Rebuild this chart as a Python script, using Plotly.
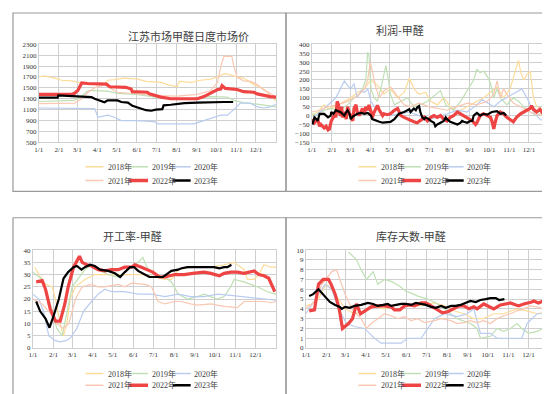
import plotly.graph_objects as go

W, H = 550, 394

# ---------------- shared axis data ----------------
month_days = [0, 31, 59, 90, 120, 151, 181, 212, 243, 273, 304, 334]
month_labels = ["1/1", "2/1", "3/1", "4/1", "5/1", "6/1", "7/1", "8/1", "9/1", "10/1", "11/1", "12/1"]
year_names = ["2018年", "2019年", "2020年", "2021年", "2022年", "2023年"]

# ---------------- panel 1: 江苏市场甲醛日度市场价 (day of year, price) ----------------
price_2018 = [(0, 1700), (9, 1720), (25, 1680), (35, 1640), (50, 1630), (60, 1600), (76, 1560), (100, 1560),
              (106, 1640), (116, 1650), (132, 1680), (152, 1660), (165, 1620), (188, 1600), (198, 1560),
              (213, 1520), (216, 1620), (234, 1600), (249, 1640), (264, 1660), (275, 1700), (285, 1760),
              (295, 1740), (305, 1700), (315, 1680), (331, 1560), (346, 1480), (361, 1300), (365, 1260)]
price_2019 = [(0, 1250), (31, 1260), (55, 1270), (66, 1350), (76, 1450), (86, 1450), (106, 1440), (121, 1400),
              (150, 1380), (180, 1330), (203, 1300), (234, 1300), (249, 1330), (264, 1340), (290, 1330),
              (300, 1270), (315, 1230), (336, 1200), (365, 1150)]
price_2020 = [(0, 1130), (60, 1130), (86, 1120), (91, 960), (101, 980), (106, 1000), (116, 960), (127, 900),
              (150, 900), (178, 880), (183, 840), (239, 840), (249, 880), (254, 900), (280, 1000), (290, 1000),
              (300, 1100), (310, 1220), (326, 1220), (336, 1150), (346, 1130), (356, 1150), (365, 1200)]
price_2021 = [(0, 1210), (31, 1210), (55, 1220), (66, 1300), (76, 1420), (86, 1500), (101, 1560), (121, 1420),
              (150, 1390), (180, 1360), (213, 1350), (244, 1380), (264, 1450), (275, 1600), (280, 1900),
              (285, 2080), (297, 2080), (300, 1900), (305, 1700), (315, 1630), (326, 1620), (336, 1560),
              (346, 1460), (356, 1400), (365, 1320)]
price_2022 = [(0, 1380), (50, 1380), (55, 1400), (60, 1450), (66, 1590), (75, 1580), (104, 1570), (109, 1520),
              (134, 1510), (137, 1500), (142, 1480), (144, 1430), (167, 1420), (170, 1390), (178, 1360),
              (188, 1330), (203, 1300), (244, 1300), (254, 1340), (264, 1400), (275, 1470), (280, 1480),
              (282, 1540), (287, 1490), (295, 1480), (305, 1470), (315, 1430), (331, 1420), (336, 1390),
              (346, 1360), (356, 1340), (365, 1330)]
price_2023 = [(0, 1320), (29, 1320), (30, 1360), (40, 1355), (60, 1345), (70, 1340), (81, 1330), (86, 1300),
              (93, 1270), (99, 1250), (101, 1235), (106, 1270), (121, 1270), (127, 1240), (137, 1230),
              (144, 1170), (152, 1140), (160, 1110), (165, 1090), (173, 1080), (180, 1100), (190, 1110),
              (192, 1180), (203, 1190), (213, 1210), (224, 1220), (244, 1230), (264, 1240), (285, 1240),
              (299, 1240)]

# ---------------- panel 2: 利润-甲醛 ----------------
profit_2018 = [(0, 0), (9, 20), (19, 60), (25, 40), (35, 50), (50, 80), (60, 100), (70, 130), (81, 150), (91, 200),
               (101, 170), (111, 120), (121, 150), (132, 100), (142, 130), (150, 210), (157, 150), (165, 120),
               (175, 130), (183, 80), (193, 60), (203, 100), (213, 50), (224, 20), (234, 40), (244, 60), (254, 80),
               (264, 100), (275, 130), (285, 160), (295, 100), (305, 150), (313, 250), (318, 310), (321, 250),
               (326, 200), (331, 230), (336, 250), (341, 100), (346, 50), (356, 30), (365, 20)]
profit_2019 = [(0, 10), (9, 0), (19, 30), (31, 40), (42, 30), (55, 60), (65, 100), (76, 130), (83, 200), (86, 355),
               (88, 340), (91, 150), (96, 100), (101, 80), (106, 150), (111, 230), (114, 280), (118, 200),
               (121, 120), (127, 60), (137, 80), (147, 100), (157, 50), (167, 60), (178, 80), (188, 110),
               (198, 140), (206, 60), (218, 30), (229, 80), (239, 140), (244, 170), (249, 200), (254, 260),
               (259, 240), (264, 250), (270, 220), (275, 180), (280, 100), (285, 150), (290, 100), (300, 60),
               (310, 100), (318, 80), (326, 50), (336, 20), (346, 0), (356, 20), (365, 10)]
profit_2020 = [(0, -30), (9, 10), (19, 40), (31, 80), (37, 100), (44, 150), (50, 195), (55, 170), (60, 150),
               (65, 180), (70, 100), (76, 140), (81, 130), (86, 150), (91, 80), (96, 50), (106, 20), (121, 0),
               (137, 10), (150, 20), (165, 0), (180, -20), (193, -10), (208, 10), (224, 30), (239, 20), (254, 60),
               (262, 90), (270, 70), (280, 50), (290, 80), (300, 100), (310, 120), (318, 140), (323, 150),
               (331, 100), (336, 60), (341, 20), (351, -20), (361, -40), (365, -50)]
profit_2021 = [(0, 20), (12, 30), (25, 50), (40, 60), (55, 80), (70, 110), (81, 150), (86, 200), (90, 300),
               (93, 250), (99, 150), (104, 100), (111, 140), (121, 160), (132, 110), (142, 60), (152, 50),
               (165, 70), (180, 50), (193, 40), (208, 30), (224, 50), (239, 70), (254, 60), (270, 80), (280, 120),
               (285, 195), (290, 100), (295, 150), (300, 120), (310, 70), (321, 50), (331, 30), (341, 10),
               (356, 0), (365, 0)]
profit_2022 = [(1, -20), (4, -40), (9, -20), (12, -60), (14, -50), (19, -70), (22, -60), (25, -80), (27, -75),
               (29, -50), (30, -30), (33, -10), (35, 10), (37, -10), (39, 80), (41, 60), (42, 20), (44, 0),
               (46, 50), (47, -10), (50, 20), (53, -20), (55, 50), (58, 10), (60, 0), (63, -30), (65, 40),
               (68, 60), (70, 20), (73, 0), (76, 20), (78, 40), (81, 10), (83, 50), (86, 30), (88, 60), (91, 20),
               (93, -10), (96, 20), (99, 40), (101, 57), (104, 30), (106, 20), (109, 0), (111, 10), (116, 5),
               (121, 10), (127, 30), (132, 40), (134, 20), (137, 0), (142, -10), (147, -20), (152, -30),
               (157, -35), (162, -40), (167, -30), (170, -20), (173, -10), (178, -30), (183, -10), (188, 0),
               (193, -10), (198, 0), (203, -20), (208, -30), (213, -10), (218, 0), (224, 20), (229, 10), (234, 0),
               (239, -10), (244, -20), (247, -30), (252, -50), (254, -40), (259, 0), (264, 10), (270, 0),
               (275, -10), (277, -30), (280, -75), (282, -40), (285, 0), (290, 20), (295, 10), (300, -10),
               (305, -20), (310, -35), (315, -10), (318, 0), (321, 10), (326, 20), (331, 30), (336, 40),
               (338, 55), (341, 35), (346, 20), (351, 35), (356, 10), (358, 40), (361, 20), (365, -10)]
profit_2023 = [(1, -50), (4, -10), (7, -20), (9, -30), (12, 10), (19, 10), (22, 0), (25, -10), (29, 0), (30, 20),
               (33, 10), (37, 30), (40, 25), (44, 20), (47, 10), (50, 0), (53, 20), (55, 30), (58, 10), (60, -20),
               (63, -5), (65, 0), (70, 10), (76, 15), (81, 10), (86, 15), (88, 10), (91, 0), (93, -20), (99, -30),
               (104, -35), (109, -40), (116, -35), (121, -35), (127, -20), (130, -5), (134, 10), (142, 20),
               (147, 30), (150, 35), (152, 20), (155, 30), (157, 40), (160, 30), (162, 45), (165, 53), (167, 20),
               (170, -10), (173, -20), (175, -10), (178, -15), (180, -20), (183, -30), (188, -40), (190, -60),
               (193, -50), (198, -40), (203, -30), (206, -10), (208, -20), (213, -35), (218, -40), (224, -50),
               (229, -40), (231, -30), (234, -35), (239, -40), (244, -30), (247, -30), (249, 0), (254, 15),
               (259, 0), (264, 10), (270, 5), (277, 20), (285, 25), (290, 10), (295, 15), (299, 0)]

# ---------------- panel 3: 开工率-甲醛 ----------------
rate_2018 = [(3, 33), (9, 30), (19, 26), (29, 25), (34, 20), (41, 10), (46, 5), (51, 10), (56, 20), (64, 25),
             (78, 28), (93, 30), (123, 30), (153, 30), (168, 30), (183, 29), (198, 28), (208, 28), (218, 32),
             (237, 33), (267, 33), (287, 34), (302, 35), (317, 32), (322, 28), (332, 28), (339, 30), (347, 34),
             (357, 33), (365, 33)]
rate_2019 = [(0, 31), (14, 28), (24, 20), (36, 8), (44, 5), (51, 15), (59, 25), (78, 32), (88, 34), (98, 32),
             (113, 30), (128, 29), (143, 32), (158, 35), (165, 37), (173, 32), (183, 30), (198, 29), (208, 27),
             (218, 22), (232, 20), (247, 21), (257, 22), (277, 20), (287, 21), (297, 25), (302, 28), (317, 27),
             (327, 26), (337, 25), (352, 23), (365, 22)]
rate_2020 = [(0, 22), (9, 20), (16, 15), (24, 5), (34, 3), (41, 2.5), (49, 3), (56, 4), (66, 8), (76, 15),
             (88, 19), (98, 22), (108, 24), (118, 23), (138, 23), (158, 22), (178, 22), (198, 21), (218, 22),
             (237, 21), (257, 21), (277, 22), (297, 21.5), (317, 21), (337, 20.5), (357, 20), (365, 19.5)]
rate_2021 = [(0, 20), (14, 18), (24, 15), (36, 10), (46, 8), (54, 10), (64, 20), (74, 25), (88, 26), (98, 25),
             (108, 25), (128, 26), (138, 25), (148, 26.5), (168, 26), (178, 25), (188, 19), (198, 18), (213, 19),
             (222, 19), (237, 18), (247, 17.5), (267, 18), (287, 17), (307, 16.5), (317, 19), (337, 19),
             (347, 19), (357, 18.5), (365, 19)]
rate_2022 = [(5, 27), (14, 27.5), (19, 24), (26, 16), (34, 11), (41, 11), (48, 18), (53, 25), (61, 33),
             (70, 37.5), (74, 35), (81, 34), (88, 33.5), (98, 32), (108, 31.5), (118, 32), (128, 32), (138, 33),
             (148, 33), (153, 34), (163, 33), (173, 32), (180, 31), (190, 29), (198, 29), (213, 30), (227, 30),
             (240, 30.5), (257, 31), (267, 30.5), (280, 29.5), (287, 30.5), (297, 31), (307, 31), (317, 30.5),
             (332, 31.5), (339, 30), (347, 29.5), (354, 28.5), (363, 23)]
rate_2023 = [(5, 19), (11, 15), (19, 12), (25, 8.3), (31, 13), (39, 20), (46, 28.4), (53, 31), (61, 33),
             (66, 33.5), (73, 32), (78, 33), (86, 34), (93, 33.5), (101, 32), (113, 31.5), (123, 30.5), (131, 29),
             (138, 31), (146, 33), (152, 33), (158, 31.5), (168, 30), (175, 29), (188, 29), (195, 29), (200, 30),
             (208, 31.5), (218, 32), (222, 32.5), (232, 33), (242, 33), (272, 33), (280, 32.5), (287, 33),
             (292, 33), (298, 34)]

# ---------------- panel 4: 库存天数-甲醛 ----------------
stock_2018 = [(0, 4.3), (9, 4.5), (19, 5.0), (26, 6.0), (31, 6.5), (39, 6.0), (49, 5.0), (59, 4.0), (73, 3.5),
              (88, 3.8), (103, 4.2), (118, 4.0), (133, 4.3), (148, 4.5), (168, 4.3), (183, 4.5), (193, 4.6),
              (208, 4.3), (222, 3.8), (237, 3.5), (252, 3.0), (267, 3.0), (282, 3.5), (297, 3.5), (317, 4.0),
              (332, 3.8), (347, 3.5), (365, 3.8)]
stock_2019 = [(64, 9.8), (76, 9.0), (83, 8.0), (91, 7.0), (101, 7.8), (108, 6.5), (118, 7.0), (128, 6.8),
              (141, 6.3), (150, 5.8), (158, 5.6), (168, 5.3), (183, 5.0), (198, 4.5), (208, 4.0), (218, 3.5),
              (227, 3.0), (247, 2.5), (257, 2.0), (262, 1.0), (277, 1.2), (287, 2.0), (297, 1.7), (307, 2.0),
              (317, 2.5), (324, 2.0), (334, 1.5), (347, 1.7), (357, 2.0), (364, 2.6)]
stock_2020 = [(0, 3.5), (9, 4.5), (19, 5.5), (29, 6.5), (39, 6.0), (49, 4.0), (61, 2.5), (73, 2.2), (88, 2.0),
              (103, 1.0), (113, 0.5), (133, 0.5), (143, 0.5), (153, 1.0), (173, 1.0), (183, 2.0), (193, 3.0),
              (208, 3.5), (227, 3.2), (242, 3.5), (252, 4.0), (262, 1.5), (277, 1.5), (287, 1.0), (307, 1.0),
              (324, 1.0), (332, 2.5), (347, 3.5), (357, 3.5), (365, 4.0)]
stock_2021 = [(0, 4.0), (9, 4.5), (16, 5.0), (24, 6.5), (39, 7.8), (46, 8.0), (51, 7.0), (59, 5.5), (69, 4.0),
              (83, 3.0), (91, 2.0), (98, 2.5), (108, 3.0), (118, 3.5), (128, 3.3), (138, 3.0), (148, 3.2),
              (158, 2.8), (168, 3.0), (178, 2.6), (193, 2.8), (203, 3.0), (218, 2.8), (227, 2.5), (237, 2.6),
              (247, 2.8), (257, 2.6), (267, 2.8), (277, 2.5), (287, 3.0), (297, 3.3), (307, 3.5), (317, 3.8),
              (327, 4.0), (337, 4.3), (347, 4.2), (357, 4.0), (365, 3.8)]
stock_2022 = [(5, 3.8), (13, 3.9), (19, 6.5), (26, 7.0), (34, 7.0), (38, 6.5), (44, 5.5), (50, 4.0), (55, 2.0),
              (64, 2.5), (70, 3.0), (76, 4.5), (82, 3.5), (88, 3.8), (98, 4.2), (108, 4.3), (118, 4.3),
              (128, 4.2), (133, 3.9), (141, 3.9), (148, 4.3), (155, 4.4), (163, 4.3), (173, 4.6), (180, 4.6),
              (188, 4.3), (198, 3.9), (205, 3.6), (213, 3.7), (222, 4.0), (230, 4.3), (237, 4.3), (245, 4.0),
              (252, 4.2), (257, 4.0), (267, 4.5), (275, 4.2), (282, 4.0), (292, 4.4), (307, 4.6), (319, 4.3),
              (327, 4.5), (339, 4.7), (342, 4.8), (349, 4.6), (357, 4.8), (364, 5.0)]
stock_2023 = [(5, 5.3), (11, 5.5), (19, 6.0), (24, 5.6), (28, 5.3), (31, 5.0), (36, 4.7), (44, 4.4), (51, 4.2),
              (54, 4.0), (59, 4.2), (66, 4.1), (73, 4.3), (83, 4.4), (93, 4.6), (101, 4.5), (108, 4.3), (116, 4.4),
              (123, 4.5), (128, 4.3), (136, 4.4), (143, 4.5), (150, 4.5), (158, 4.4), (165, 4.6), (173, 4.5),
              (180, 4.4), (188, 4.2), (195, 4.1), (203, 4.3), (210, 4.1), (218, 4.3), (225, 4.3), (232, 4.4),
              (240, 4.6), (247, 4.8), (255, 4.7), (262, 4.9), (270, 5.0), (277, 5.1), (285, 5.1), (290, 4.9),
              (298, 5.0)]

# ---------------- styles ----------------
series_colors = ["#FDDC9A", "#BFE0B4", "#B9CCF0", "#F9C7B2", "#EE4444", "#000000"]
series_widths = [1.2, 1.2, 1.2, 1.2, 3.2, 2.2]
legend_widths = [1.5, 1.5, 1.5, 1.5, 3.5, 2.5]
GRID = "#cfcfcf"
BORDER = "#9a9a9a"
FONT_NUM = "Liberation Serif, Noto Sans CJK SC"
FONT_CJK = "Noto Sans CJK SC"

panels = [
    dict(title="江苏市场甲醛日度市场价",
         data=[price_2018, price_2019, price_2020, price_2021, price_2022, price_2023],
         yr=[500, 2300], dt=200, box=(1, 1, 276, 183), plot=(27, 33, 266, 133),
         title_xy=(178, 24), leg_rows=(158, 172), ox=0),
    dict(title="利润-甲醛",
         data=[profit_2018, profit_2019, profit_2020, profit_2021, profit_2022, profit_2023],
         yr=[-150, 400], dt=50, box=(276, 1, 549, 183), plot=(302, 33, 541, 133),
         title_xy=(391, 18), leg_rows=(158, 172), ox=275),
    dict(title="开工率-甲醛",
         data=[rate_2018, rate_2019, rate_2020, rate_2021, rate_2022, rate_2023],
         yr=[0, 40], dt=5, box=(1, 210, 276, 392.5), plot=(21, 243, 266, 343),
         title_xy=(121, 229), leg_rows=(369, 381), ox=0),
    dict(title="库存天数-甲醛",
         data=[stock_2018, stock_2019, stock_2020, stock_2021, stock_2022, stock_2023],
         yr=[0, 10], dt=1, box=(276, 210, 549, 392.5), plot=(296, 243, 541, 343),
         title_xy=(402, 229), leg_rows=(369, 381), ox=275),
]


def fx(p):
    return p / W


def fy(p):
    return 1 - p / H


fig = go.Figure()
shapes = []
annotations = []
layout_axes = {}

# legend sample layout (pixels relative to panel's left offset)
leg_items = [(74, 92, 95), (118, 137, 139), (162, 180, 181)]

for i, pnl in enumerate(panels, start=1):
    xa = "x" if i == 1 else f"x{i}"
    ya = "y" if i == 1 else f"y{i}"
    x0, y0, x1, y1 = pnl["plot"]
    common = dict(showgrid=True, gridcolor=GRID, gridwidth=1, zeroline=False,
                  showline=True, linecolor=GRID, linewidth=1, mirror=True,
                  ticks="", tickfont=dict(family=FONT_NUM, size=7, color="#333333"),
                  fixedrange=True)
    layout_axes["xaxis" if i == 1 else f"xaxis{i}"] = dict(
        domain=[fx(x0), fx(x1)], anchor=ya, range=[0, 365],
        tickmode="array", tickvals=month_days, ticktext=month_labels, **common)
    layout_axes["yaxis" if i == 1 else f"yaxis{i}"] = dict(
        domain=[fy(y1), fy(y0)], anchor=xa, range=pnl["yr"],
        tickmode="linear", tick0=pnl["yr"][0], dtick=pnl["dt"], **common)

    for k, series in enumerate(pnl["data"]):
        fig.add_trace(go.Scatter(
            x=[d for d, _ in series], y=[v for _, v in series],
            mode="lines", name=year_names[k], showlegend=False,
            line=dict(color=series_colors[k], width=series_widths[k]),
            xaxis=xa, yaxis=ya, hoverinfo="skip"))

    bx0, by0, bx1, by1 = pnl["box"]
    shapes.append(dict(type="rect", xref="paper", yref="paper",
                       x0=fx(bx0), x1=fx(bx1), y0=fy(by1), y1=fy(by0),
                       line=dict(color=BORDER, width=1.2), fillcolor="rgba(0,0,0,0)", layer="above"))

    tx, ty = pnl["title_xy"]
    annotations.append(dict(text=pnl["title"], xref="paper", yref="paper", x=fx(tx), y=fy(ty),
                            xanchor="center", yanchor="middle", showarrow=False,
                            font=dict(family=FONT_CJK, size=11, color="#404040")))

    ox = pnl["ox"]
    for r, rowy in enumerate(pnl["leg_rows"]):
        for c in range(3):
            k = r * 3 + c
            lx0, lx1, tx0 = leg_items[c]
            shapes.append(dict(type="line", xref="paper", yref="paper",
                               x0=fx(lx0 + ox), x1=fx(lx1 + ox), y0=fy(rowy), y1=fy(rowy),
                               line=dict(color=series_colors[k], width=legend_widths[k])))
            annotations.append(dict(text=year_names[k], xref="paper", yref="paper",
                                    x=fx(tx0 + ox), y=fy(rowy), xanchor="left", yanchor="middle",
                                    showarrow=False,
                                    font=dict(family=FONT_NUM, size=8, color="#404040")))

fig.update_layout(
    width=W, height=H, margin=dict(l=0, r=0, t=0, b=0),
    paper_bgcolor="white", plot_bgcolor="white",
    showlegend=False, shapes=shapes, annotations=annotations,
    **layout_axes)

fig.write_html("out.html")
